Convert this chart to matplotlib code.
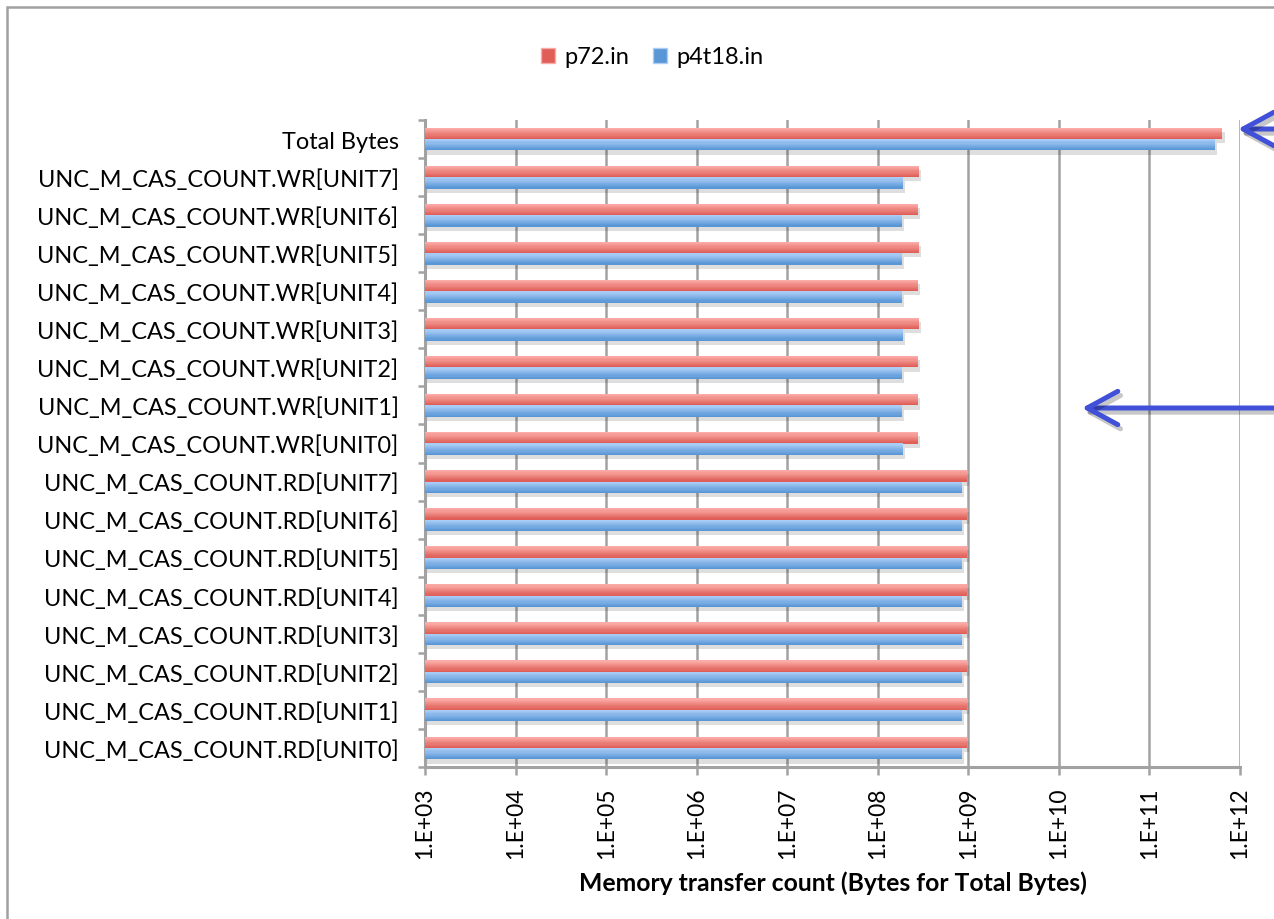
import numpy as np
import matplotlib
matplotlib.use("Agg")
import matplotlib.pyplot as plt
import matplotlib.patches as mpatches
import matplotlib.patheffects as pe
from matplotlib.colors import to_rgb

# ---- data -------------------------------------------------------------
categories = [
    "UNC_M_CAS_COUNT.RD[UNIT0]", "UNC_M_CAS_COUNT.RD[UNIT1]",
    "UNC_M_CAS_COUNT.RD[UNIT2]", "UNC_M_CAS_COUNT.RD[UNIT3]",
    "UNC_M_CAS_COUNT.RD[UNIT4]", "UNC_M_CAS_COUNT.RD[UNIT5]",
    "UNC_M_CAS_COUNT.RD[UNIT6]", "UNC_M_CAS_COUNT.RD[UNIT7]",
    "UNC_M_CAS_COUNT.WR[UNIT0]", "UNC_M_CAS_COUNT.WR[UNIT1]",
    "UNC_M_CAS_COUNT.WR[UNIT2]", "UNC_M_CAS_COUNT.WR[UNIT3]",
    "UNC_M_CAS_COUNT.WR[UNIT4]", "UNC_M_CAS_COUNT.WR[UNIT5]",
    "UNC_M_CAS_COUNT.WR[UNIT6]", "UNC_M_CAS_COUNT.WR[UNIT7]",
    "Total Bytes",
]
p72_in = [9.62e8, 9.62e8, 9.60e8, 9.62e8, 9.60e8, 9.62e8, 9.60e8, 9.62e8,
          2.80e8, 2.80e8, 2.80e8, 2.85e8, 2.78e8, 2.83e8, 2.80e8, 2.85e8,
          6.40e11]
p4t18_in = [8.50e8, 8.50e8, 8.50e8, 8.50e8, 8.48e8, 8.50e8, 8.50e8, 8.48e8,
            1.90e8, 1.85e8, 1.85e8, 1.88e8, 1.85e8, 1.85e8, 1.85e8, 1.90e8,
            5.35e11]
series_names = ["p72.in", "p4t18.in"]
x_tick_values = [1e3, 1e4, 1e5, 1e6, 1e7, 1e8, 1e9, 1e10, 1e11, 1e12]
x_tick_labels = ["1.E+03", "1.E+04", "1.E+05", "1.E+06", "1.E+07",
                 "1.E+08", "1.E+09", "1.E+10", "1.E+11", "1.E+12"]
x_label = "Memory transfer count (Bytes for Total Bytes)"

# ---- styling ----------------------------------------------------------
FONT = ["Lato", "DejaVu Sans"]
GRID = "#a2a2a2"
RED_TOP, RED_BOT = "#fbaba7", "#df5f58"
BLUE_TOP, BLUE_BOT = "#aacdf7", "#5896d6"
X_MIN, X_MAX = 1e3, 1e12
BAR_H = 0.30
N_STRIPS = 10

plt.rcParams["font.family"] = FONT

fig = plt.figure(figsize=(12.74, 9.2), dpi=100)
ax = fig.add_axes([425 / 1274, 1 - 768 / 920, 815 / 1274, 647 / 920])

ax.set_xscale("log")
ax.set_xlim(X_MIN, X_MAX)
ax.set_ylim(-0.5, len(categories) - 0.5)

y = np.arange(len(categories))


def gradient_barh(ypos, values, top, bottom):
    """Horizontal bars filled with a vertical two-colour gradient."""
    widths = np.asarray(values) - X_MIN
    base = ax.barh(ypos, widths, height=BAR_H, left=X_MIN, color=bottom,
                   linewidth=0, zorder=3)
    for b in base:
        b.set_path_effects([pe.SimplePatchShadow(offset=(1.5, -3),
                                                 shadow_rgbFace="#000000",
                                                 alpha=0.13), pe.Normal()])
    c_top, c_bot = np.array(to_rgb(top)), np.array(to_rgb(bottom))
    strip_h = BAR_H / N_STRIPS
    for i in range(N_STRIPS):
        t = i / (N_STRIPS - 1)
        col = c_bot * (1 - t) + c_top * t
        offs = -BAR_H / 2 + strip_h * (i + 0.5)
        ax.barh(np.asarray(ypos) + offs, widths, height=strip_h * 1.02,
                left=X_MIN, color=col, linewidth=0, zorder=4)
    return base


gradient_barh(y + BAR_H / 2, p72_in, RED_TOP, RED_BOT)
gradient_barh(y - BAR_H / 2, p4t18_in, BLUE_TOP, BLUE_BOT)

# gridlines / axes
ax.set_xticks(x_tick_values)
ax.set_xticklabels(x_tick_labels, rotation=90, fontsize=16.5)
ax.xaxis.set_minor_locator(matplotlib.ticker.NullLocator())
ax.grid(axis="x", color=GRID, linewidth=1.8, zorder=0)
ax.set_axisbelow(True)

ax.set_yticks(y)
ax.set_yticklabels(categories, fontsize=16.9)
ax.set_yticks(np.arange(-0.5, len(categories), 1.0), minor=True)
ax.tick_params(axis="y", which="major", length=0, pad=19)
ax.tick_params(axis="y", which="minor", length=5, width=1.8, color=GRID,
               direction="out")
ax.tick_params(axis="x", which="major", length=6, width=1.8, color=GRID,
               direction="out", pad=8)

for side in ("top", "right"):
    ax.spines[side].set_visible(False)
for side in ("left", "bottom"):
    ax.spines[side].set_color(GRID)
    ax.spines[side].set_linewidth(2.2)

ax.set_xlabel(x_label, fontsize=17.8, fontweight="bold", labelpad=9)

# legend
handles = [
    mpatches.Patch(facecolor=RED_BOT, edgecolor=RED_TOP, label=series_names[0]),
    mpatches.Patch(facecolor=BLUE_BOT, edgecolor=BLUE_TOP, label=series_names[1]),
]
fig.legend(handles=handles, loc="center", bbox_to_anchor=(652 / 1274, 1 - 58 / 920),
           ncol=2, frameon=False, fontsize=17, handlelength=0.6,
           handleheight=0.6, handletextpad=0.4, columnspacing=1.0)

# pointer arrows on the right
ARROW = "#4150d8"
shadow = [pe.SimpleLineShadow(offset=(2, -3), alpha=0.22, shadow_color="black"),
          pe.Normal()]
for tip_x, tip_y in [(1238, 130), (1082, 409)]:
    fig.add_artist(mpatches.FancyArrowPatch(
        posA=(1300 / 1274, 1 - tip_y / 920), posB=(tip_x / 1274, 1 - tip_y / 920),
        transform=fig.transFigure,
        arrowstyle="->,head_length=1.1,head_width=0.6",
        mutation_scale=20, shrinkA=0, shrinkB=0,
        color=ARROW, linewidth=3.6, zorder=10, path_effects=shadow,
        capstyle="round", joinstyle="round"))

# outer frame (left and top edges lie inside the canvas)
fig.add_artist(mpatches.Rectangle((7 / 1274, -0.1), 1.2, 1 - 8 / 920 + 0.1,
                                  transform=fig.transFigure, fill=False,
                                  edgecolor="#a0a0a0", linewidth=1.8))

fig.savefig("out.png", dpi=100, facecolor="white")
